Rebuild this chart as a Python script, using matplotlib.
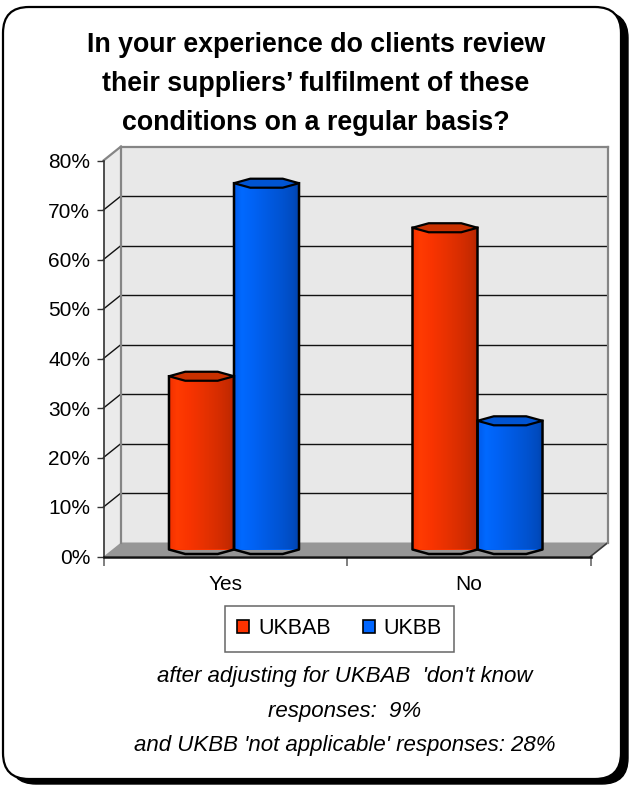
import numpy as np
import matplotlib
matplotlib.use("Agg")
import matplotlib.pyplot as plt
from matplotlib.patches import Polygon, FancyBboxPatch, Patch
from matplotlib.lines import Line2D
from matplotlib.colors import LinearSegmentedColormap

plt.rcParams['font.family'] = ['Liberation Sans', 'DejaVu Sans']

# ---- data -------------------------------------------------------------
title = ("In your experience do clients review\n"
         "their suppliers\u2019 fulfilment of these\n"
         "conditions on a regular basis?")
categories = ["Yes", "No"]
series_names = ["UKBAB", "UKBB"]
ukbab = [35, 65]
ukbb = [74, 26]
y_ticks = [0, 10, 20, 30, 40, 50, 60, 70, 80]
y_tick_labels = [f"{t}%" for t in y_ticks]
footnote = ("after adjusting for UKBAB  'don't know\n"
            "responses:  9%\n"
            "and UKBB 'not applicable' responses: 28%")

# ---- styling ----------------------------------------------------------
RED, BLUE = "#FF3300", "#0066FF"
RED_TOP, BLUE_TOP = "#C83000", "#0054D2"
RED_GRAD = ["#F23000", "#FF3B02", "#F93400", "#E63100", "#D62D00", "#C62A00", "#B22500"]
BLUE_GRAD = ["#005BEA", "#0069FF", "#0062F4", "#0059DF", "#0052CF", "#004BBF", "#0042AA"]
GRAD_STOPS = [0, .12, .3, .55, .75, .9, 1]

W, H = 630, 785
FRONT_L, FRONT_R = 103.5, 590.5      # front plane, pixels
FRONT_TOP, FRONT_BOT = 160.5, 556.5
DEPTH_X, DEPTH_Y = 17.5, 14.0        # 3-D depth offset, pixels
CAP_PX = 4.5                          # half height of the cylinder caps
BAR_W = 0.267

fig = plt.figure(figsize=(W / 100, H / 100), dpi=100)


def rect(l, t, r, b, dx=0.0, dy=0.0):
    return [(l + dx) / W, 1 - (b - dy) / H, (r - l) / W, (b - t) / H]


# ---- rounded page frame with drop shadow ------------------------------
bg = fig.add_axes([0, 0, 1, 1], zorder=-10)
bg.set_xlim(0, W)
bg.set_ylim(H, 0)
bg.axis("off")
bg.add_patch(FancyBboxPatch((3 + 7, 7 + 5), 618, 772,
                            boxstyle="round,pad=0,rounding_size=26",
                            fc="black", ec="black", lw=1))
bg.add_patch(FancyBboxPatch((3, 7), 618, 772,
                            boxstyle="round,pad=0,rounding_size=26",
                            fc="white", ec="black", lw=1.6))

# ---- three planes: back wall, bar plane (mid depth), front axis -------
wx = fig.add_axes(rect(FRONT_L, FRONT_TOP, FRONT_R, FRONT_BOT, DEPTH_X, DEPTH_Y), zorder=0)
bx = fig.add_axes(rect(FRONT_L, FRONT_TOP, FRONT_R, FRONT_BOT, DEPTH_X / 2, DEPTH_Y / 2), zorder=1)
ax = fig.add_axes(rect(FRONT_L, FRONT_TOP, FRONT_R, FRONT_BOT), zorder=2)

xlim = (-0.5, len(categories) - 0.5)
ylim = (y_ticks[0], y_ticks[-1])
for a in (wx, bx, ax):
    a.set_xlim(*xlim)
    a.set_ylim(*ylim)

# back wall
wx.set_facecolor("#E8E8E8")
wx.set_xticks([])
wx.set_yticks([])
for side in ("left", "top", "right"):
    wx.spines[side].set_color("#858585")
    wx.spines[side].set_linewidth(1.6)
wx.spines["bottom"].set_visible(False)
for t in y_ticks[1:-1]:
    wx.axhline(t, color="#111111", lw=1.0, zorder=1)


def front_to_wall(x, y):
    return wx.transData.inverted().transform(ax.transData.transform((x, y)))


# left side wall
x_left, x_right = xlim
lw_pts = [front_to_wall(x_left, ylim[0]), front_to_wall(x_left, ylim[1]),
          (x_left, ylim[1]), (x_left, ylim[0])]
wx.add_patch(Polygon(lw_pts, closed=True, fc="#EBEBEB", ec="none",
                     clip_on=False, zorder=0.5))
for t in y_ticks[1:]:
    p = front_to_wall(x_left, t)
    wx.add_line(Line2D([p[0], x_left], [p[1], t],
                       color="#858585" if t == ylim[1] else "#111111",
                       lw=1.6 if t == ylim[1] else 1.0,
                       clip_on=False, zorder=1))

# floor
fl_pts = [front_to_wall(x_left, 0), front_to_wall(x_right, 0),
          (x_right, 0), (x_left, 0)]
wx.add_patch(Polygon(fl_pts, closed=True, fc="#969696", ec="none",
                     clip_on=False, zorder=2))
p = front_to_wall(x_right, 0)
wx.add_line(Line2D([p[0], x_right], [p[1], 0], color="#3a3a3a", lw=1.2,
                   clip_on=False, zorder=2.5))

# ---- cylinder columns ---------------------------------------------------
bx.axis("off")
bx.patch.set_alpha(0)
xpos = np.arange(len(categories))
bars_a = bx.bar(xpos - BAR_W / 2, ukbab, BAR_W, color=RED, lw=0, zorder=1)
bars_b = bx.bar(xpos + BAR_W / 2, ukbb, BAR_W, color=BLUE, lw=0, zorder=1)

cap = CAP_PX * (ylim[1] - ylim[0]) / (FRONT_BOT - FRONT_TOP)
grad = np.linspace(0, 1, 256)[None, :]


def front_half(x0, bw, y):
    cx = x0 + bw / 2
    return [(x0, y), (cx - bw / 4, y - cap), (cx + bw / 4, y - cap), (x0 + bw, y)]


for container, grad_cols, top_col in ((bars_a, RED_GRAD, RED_TOP),
                                      (bars_b, BLUE_GRAD, BLUE_TOP)):
    cmap = LinearSegmentedColormap.from_list(
        "shade", list(zip(GRAD_STOPS, grad_cols)))
    for r in container:
        x0, bw, h = r.get_x(), r.get_width(), r.get_height()
        cx = x0 + bw / 2
        body = Polygon([(x0, h)] + front_half(x0, bw, 0) + [(x0 + bw, h)],
                       closed=True, fc=grad_cols[2], ec="none", zorder=2)
        bx.add_patch(body)
        img = bx.imshow(grad, extent=(x0, x0 + bw, -cap, h), aspect="auto",
                        cmap=cmap, interpolation="bilinear", zorder=2.5)
        img.set_clip_path(body)
        outline = [(x0, h)] + front_half(x0, bw, 0) + [(x0 + bw, h)]
        bx.add_line(Line2D([q[0] for q in outline], [q[1] for q in outline],
                           color="black", lw=1.8, zorder=3,
                           solid_joinstyle="round", clip_on=False))
        top = front_half(x0, bw, h) + [(cx + bw / 4, h + cap), (cx - bw / 4, h + cap)]
        bx.add_patch(Polygon(top, closed=True, fc=top_col, ec="black",
                             lw=1.6, zorder=4, clip_on=False,
                             joinstyle="round"))

bx.set_xlim(*xlim)
bx.set_ylim(*ylim)

# ---- front axis: ticks, labels and front edges --------------------------
ax.patch.set_alpha(0)
ax.spines["top"].set_visible(False)
ax.spines["right"].set_visible(False)
ax.spines["left"].set_color("#333333")
ax.spines["left"].set_linewidth(1.2)
ax.spines["bottom"].set_color("#111111")
ax.spines["bottom"].set_linewidth(1.8)
ax.set_yticks(y_ticks)
ax.set_yticklabels(y_tick_labels)
ax.tick_params(axis="y", length=5.4, width=1, color="#333333", pad=4.3,
               labelsize=15)
ax.set_xticks(np.arange(len(categories) + 1) - 0.5)
ax.set_xticklabels([])
ax.tick_params(axis="x", which="major", length=6.5, width=1.2, color="#6a6a6a")
ax.set_xticks(xpos, minor=True)
ax.set_xticklabels(categories, minor=True)
ax.tick_params(axis="x", which="minor", length=0, pad=13, labelsize=15)

# ---- title, legend, footnote -------------------------------------------
fig.text(316 / W, 1 - 84 / H, title, ha="center", va="center",
         fontsize=19.3, fontweight="bold", linespacing=1.66)

handles = [Patch(fc=RED, ec="black", lw=1.2), Patch(fc=BLUE, ec="black", lw=1.2)]
leg = fig.legend(handles, series_names, ncol=2, loc="center",
                 bbox_to_anchor=(339.5 / W, 1 - 629 / H), frameon=True,
                 fancybox=False, edgecolor="#404040", fontsize=15.5,
                 handlelength=0.55, handleheight=0.55, handletextpad=0.4,
                 columnspacing=1.5, borderpad=0.6)
leg.get_frame().set_linewidth(1.1)

fig.text(345 / W, 1 - 711 / H, footnote, ha="center", va="center",
         fontsize=16, style="italic", linespacing=1.85)

fig.savefig("out.png", dpi=100, facecolor="white")
